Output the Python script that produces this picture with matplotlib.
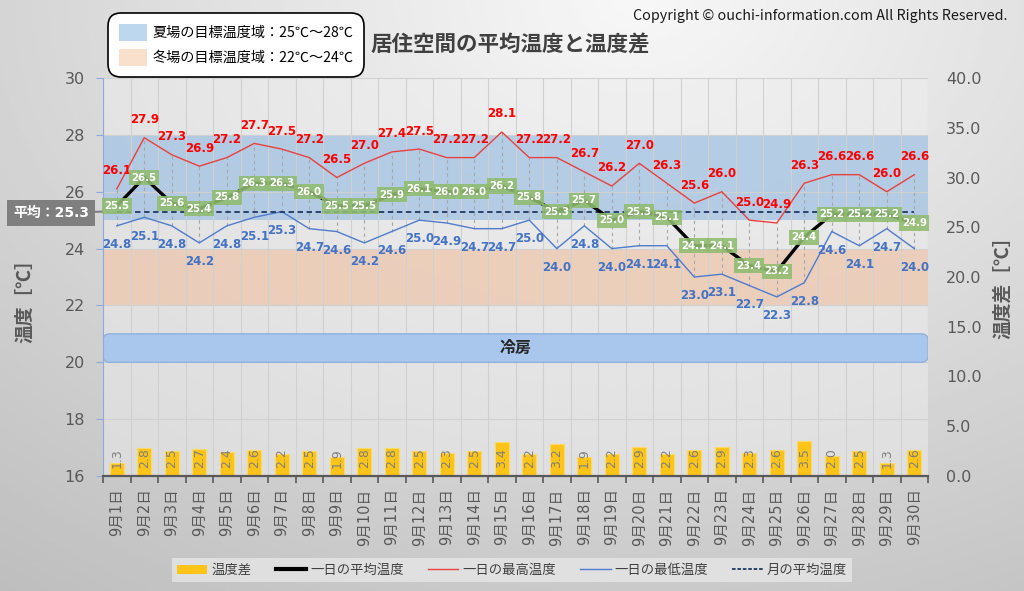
import numpy as np
import matplotlib.pyplot as plt
from matplotlib.patches import Patch, FancyBboxPatch
from matplotlib.lines import Line2D

# data
days = [f'9月{d}日' for d in range(1, 31)]
t_max = [26.1, 27.9, 27.3, 26.9, 27.2, 27.7, 27.5, 27.2, 26.5, 27.0,
         27.4, 27.5, 27.2, 27.2, 28.1, 27.2, 27.2, 26.7, 26.2, 27.0,
         26.3, 25.6, 26.0, 25.0, 24.9, 26.3, 26.6, 26.6, 26.0, 26.6]
t_min = [24.8, 25.1, 24.8, 24.2, 24.8, 25.1, 25.3, 24.7, 24.6, 24.2,
         24.6, 25.0, 24.9, 24.7, 24.7, 25.0, 24.0, 24.8, 24.0, 24.1,
         24.1, 23.0, 23.1, 22.7, 22.3, 22.8, 24.6, 24.1, 24.7, 24.0]
t_avg = [25.5, 26.5, 25.6, 25.4, 25.8, 26.3, 26.3, 26.0, 25.5, 25.5,
         25.9, 26.1, 26.0, 26.0, 26.2, 25.8, 25.3, 25.7, 25.0, 25.3,
         25.1, 24.1, 24.1, 23.4, 23.2, 24.4, 25.2, 25.2, 25.2, 24.9]
t_diff = [1.3, 2.8, 2.5, 2.7, 2.4, 2.6, 2.2, 2.5, 1.9, 2.8,
          2.8, 2.5, 2.3, 2.5, 3.4, 2.2, 3.2, 1.9, 2.2, 2.9,
          2.2, 2.6, 2.9, 2.3, 2.6, 3.5, 2.0, 2.5, 1.3, 2.6]
month_avg = 25.3
summer_band = (25, 28)
winter_band = (22, 24)
cooling_band = (20, 21)

plt.rcParams['font.family'] = ['Noto Sans CJK JP', 'DejaVu Sans']
NUM = ['DejaVu Sans', 'Noto Sans CJK JP']   # Verdana-like digits, CJK fallback

fig = plt.figure(figsize=(10.24, 5.91), dpi=100)

# grey gradient background
bg = fig.add_axes([0, 0, 1, 1], zorder=-10)
yy, xx = np.mgrid[0:1:200j, 0:1:300j]
r = np.sqrt(((xx - 0.62) * 1.1) ** 2 + (yy * 0.9) ** 2)
bg.imshow(0.97 - 0.2 * r, cmap='gray', vmin=0, vmax=1, aspect='auto',
          extent=[0, 1, 0, 1], origin='upper')
bg.axis('off')

ax = fig.add_axes([0.1006, 0.1946, 0.8057, 0.6734])
ax2 = ax.twinx()
ax.set_zorder(2)
ax2.set_zorder(1)
ax.patch.set_visible(False)
ax2.patch.set_visible(True)
ax2.patch.set_facecolor('#eeeeee')
ax2.patch.set_alpha(0.5)

x = np.arange(len(days))

# bars on secondary axis
ax2.bar(x, t_diff, width=0.52, color='#fcc419', edgecolor='#ffd966', lw=0.8)
for i, v in enumerate(t_diff):
    ax2.annotate(f'{v:.1f}', (i, 0), xytext=(0, 6), textcoords='offset points',
                 rotation=90, ha='center', va='bottom', fontsize=9, color='#7f7f7f',
                 family=NUM)
ax2.set_ylim(0, 40)
ax2.set_yticks(np.arange(0, 41, 5))
ax2.set_yticklabels([f'{t:.1f}' for t in np.arange(0, 41, 5)], family=NUM)
ax2.tick_params(axis='y', length=0, pad=13, labelsize=11.5, labelcolor='#595959')
for s in ax2.spines.values():
    s.set_visible(False)

# bands
ax.axhspan(*summer_band, color='#9dbfe2', alpha=0.7, lw=0, zorder=0.5)
ax.axhspan(*winter_band, color='#edc5a9', alpha=0.7, lw=0, zorder=0.5)

box = FancyBboxPatch((0.0, cooling_band[0]), 1.0, cooling_band[1] - cooling_band[0],
                     boxstyle='round,pad=0,rounding_size=0.008', mutation_aspect=29,
                     transform=ax.get_yaxis_transform(), fc='#a9c7ec', ec='#8fb2de',
                     lw=1, zorder=0.8)
ax.add_patch(box)
ax.text(0.5, sum(cooling_band) / 2, '冷房', transform=ax.get_yaxis_transform(),
        ha='center', va='center', fontsize=11.5, fontweight='bold', color='#262626', zorder=0.9)

# lines
ax.vlines(x, t_min, t_max, colors='#a6a6a6', linestyles=(0, (3, 3)), lw=0.8, zorder=1)
ax.plot(x, t_max, color='#e8413f', lw=1, zorder=2)
ax.plot(x, t_min, color='#4f7ccc', lw=1, zorder=2)
ax.plot(x, np.full(len(x), month_avg), ls=(0, (3, 2)), color='#1f3864', lw=1.3, zorder=2)
ax.plot(x, t_avg, color='black', lw=2.4, zorder=3)

for i in x:
    ax.annotate(f'{t_max[i]:.1f}', (i, t_max[i]), xytext=(0, 13), textcoords='offset points',
                ha='center', va='center', color='#ff0000', fontsize=8.5, fontweight='bold',
                family=NUM, zorder=4)
    ax.annotate(f'{t_min[i]:.1f}', (i, t_min[i]), xytext=(0, -13.5), textcoords='offset points',
                ha='center', va='center', color='#4472c4', fontsize=8.5, fontweight='bold',
                family=NUM, zorder=4)
    ax.annotate(f'{t_avg[i]:.1f}', (i, t_avg[i]), ha='center', va='center', color='white',
                fontsize=7.4, fontweight='bold', family=NUM, zorder=5,
                bbox=dict(boxstyle='square,pad=0.25', fc='#8fbc6e', ec='none', alpha=0.88))

ax.annotate(f'平均：{month_avg}', xy=(-0.5, month_avg), xytext=(-0.063, month_avg - 0.05),
            textcoords=('axes fraction', 'data'), ha='center', va='center',
            color='white', fontsize=10, fontweight='bold', annotation_clip=False, family=NUM,
            bbox=dict(boxstyle='square,pad=0.4', fc='#7f7f7f', ec='none'),
            arrowprops=dict(arrowstyle='-', color='#7f7f7f', lw=1.5, shrinkA=0, shrinkB=0))

# axes
ax.set_xlim(-0.5, len(days) - 0.5)
ax.set_ylim(16, 30)
ax.set_yticks(np.arange(16, 31, 2))
ax.set_yticklabels([str(t) for t in np.arange(16, 31, 2)], family=NUM)
ax.tick_params(axis='y', direction='out', length=5, color='#8eaadb', pad=8,
               labelsize=11.5, labelcolor='#595959')
ax.set_xticks(x)
ax.set_xticklabels(days, rotation=90, family=NUM)
ax.set_xticks(np.arange(-0.5, len(days), 1), minor=True)
ax.tick_params(axis='x', which='major', length=0, pad=9, labelsize=10.5, labelcolor='#595959')
ax.tick_params(axis='x', which='minor', length=5, width=1.2, color='#595959')
ax.grid(True, axis='y', color='#d0d0d0', lw=0.8, zorder=0)
ax.grid(True, axis='x', which='minor', color='#d0d0d0', lw=0.8, zorder=0)
ax.set_axisbelow(True)
for s in ['top', 'right']:
    ax.spines[s].set_visible(False)
ax.spines['left'].set_color('#8eaadb')
ax.spines['bottom'].set_color('#595959')
ax.spines['bottom'].set_linewidth(1.6)

fig.text(25 / 1024, 0.499, '温度［℃］', rotation=90, ha='center', va='center',
         fontsize=13.5, fontweight='bold', color='#595959')
fig.text(1003 / 1024, 0.521, '温度差［℃］', rotation=90, ha='center', va='center',
         fontsize=13.5, fontweight='bold', color='#595959')

fig.text(0.498, 0.924, '居住空間の平均温度と温度差', ha='center', va='center',
         fontsize=15.5, fontweight='bold', color='#404040')
fig.text(0.984, 0.973, 'Copyright © ouchi-information.com All Rights Reserved.',
         ha='right', va='center', fontsize=10.3, color='#1a1a1a')

# legends
handles = [Patch(fc='#fcc419'),
           Line2D([], [], color='black', lw=3),
           Line2D([], [], color='#e8413f', lw=1),
           Line2D([], [], color='#4f7ccc', lw=1),
           Line2D([], [], color='#1f3864', lw=1.3, ls=(0, (2, 1)))]
labels = ['温度差', '一日の平均温度', '一日の最高温度', '一日の最低温度', '月の平均温度']
leg = fig.legend(handles, labels, loc='center', bbox_to_anchor=(0.5, 0.0355), ncol=5,
                 frameon=True, facecolor='#e6e6e6', edgecolor='none', fancybox=False,
                 fontsize=9.6, handlelength=2.3, handletextpad=0.3, columnspacing=1.8,
                 labelcolor='#404040', borderpad=0.35)

band_handles = [Patch(fc='#bdd7ee'), Patch(fc='#f8e0cc')]
band_labels = [f'夏場の目標温度域：{summer_band[0]}℃～{summer_band[1]}℃',
               f'冬場の目標温度域：{winter_band[0]}℃～{winter_band[1]}℃']
leg2 = fig.legend(band_handles, band_labels, loc='upper left',
                  bbox_to_anchor=(104 / 1024, 1 - 9 / 591), frameon=True,
                  facecolor='white', edgecolor='black', framealpha=1,
                  fontsize=10.2, handlelength=2.0, handleheight=1.5, labelspacing=0.55,
                  borderpad=0.55, handletextpad=0.35)
leg2.get_frame().set_linewidth(1.2)
leg2.get_frame().set_boxstyle('round,pad=0.2,rounding_size=0.9')

fig.savefig('out.png', dpi=100)
